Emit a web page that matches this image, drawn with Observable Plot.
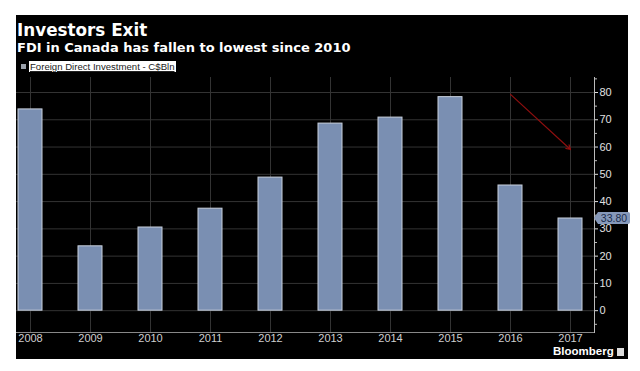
<!DOCTYPE html>
<html><head><meta charset="utf-8">
<script src="https://cdn.jsdelivr.net/npm/d3@7"></script>
<script src="https://cdn.jsdelivr.net/npm/@observablehq/plot@0.6"></script>
<style>
body{margin:0;background:#fff;width:640px;height:371px;overflow:hidden;position:relative}
#panel{position:absolute;left:16px;top:15px;width:612px;height:344px;background:#000}
.t{position:absolute;white-space:nowrap;line-height:1;color:#fff}
#title{left:1px;top:4.8px;font:bold 16.8px "DejaVu Sans"}
#subtitle{left:1px;top:24.7px;font:bold 13px "DejaVu Sans"}
#legsq{position:absolute;left:5px;top:49px;width:5px;height:5px;background:#9aa0aa}
#legtx{position:absolute;left:13px;top:46px;height:11px;line-height:11px;background:#fff;color:#222;font:9.6px "Liberation Sans";padding:0 1px;text-decoration:underline;white-space:nowrap}
#chart{position:absolute;left:0;top:57px}
#chart svg{overflow:visible}
#brand{position:absolute;left:537px;top:331px;font:bold 11.5px "Liberation Sans";color:#fff;line-height:1}
#icon{position:absolute;left:601px;top:333px;width:7px;height:8px;background:#ddd}
</style>
</head><body>
<div id="panel">
  <div id="title" class="t">Investors Exit</div>
  <div id="subtitle" class="t">FDI in Canada has fallen to lowest since 2010</div>
  <div id="legsq"></div>
  <div id="legtx">Foreign Direct Investment - C$Bln</div>
  <div id="chart"></div>
  <div id="brand">Bloomberg</div>
  <div id="icon"></div>
</div>
<script>
const years = ["2008","2009","2010","2011","2012","2013","2014","2015","2016","2017"];
const fdi = [73.8, 23.6, 30.5, 37.4, 48.8, 68.6, 70.8, 78.3, 45.9, 33.8];
const yTicks = [0, 10, 20, 30, 40, 50, 60, 70, 80];
const yMinorTicks = [-5, 5, 15, 25, 35, 45, 55, 65, 75, 85];
const arrowYears = ["2016", "2017"];
const arrowValues = [79.3, 59.1];
const lastLabel = "33.80";

const data = years.map((year, i) => ({year, value: fdi[i]}));
const arrowData = [{x1: arrowYears[0], y1: arrowValues[0], x2: arrowYears[1], y2: arrowValues[1]}];

function tagMark(index, scales, values, dims) {
  const svgNS = "http://www.w3.org/2000/svg";
  const g = document.createElementNS(svgNS, "g");
  const x0 = dims.width - dims.marginRight;
  const yc = scales.y(fdi[fdi.length - 1]);
  const p = document.createElementNS(svgNS, "path");
  p.setAttribute("d", `M${x0},${yc} L${x0+4},${yc-6} L${x0+34},${yc-6} Q${x0+36},${yc-6} ${x0+36},${yc-4} L${x0+36},${yc+4} Q${x0+36},${yc+6} ${x0+34},${yc+6} L${x0+4},${yc+6} Z`);
  p.setAttribute("fill", "#8699ba");
  g.appendChild(p);
  const t = document.createElementNS(svgNS, "text");
  t.setAttribute("x", x0 + 20);
  t.setAttribute("y", yc);
  t.setAttribute("dy", "0.36em");
  t.setAttribute("text-anchor", "middle");
  t.setAttribute("fill", "#1c2d4d");
  t.setAttribute("font-family", "Liberation Sans");
  t.setAttribute("font-size", "10.5");
  t.textContent = lastLabel;
  g.appendChild(t);
  return g;
}

const chart = Plot.plot({
  width: 612,
  height: 273,
  marginLeft: 0,
  marginRight: 34,
  marginTop: 5,
  marginBottom: 13,
  style: {background: "transparent", color: "#ccc", fontFamily: "Liberation Sans", fontSize: "11px", overflow: "visible"},
  x: {type: "band", domain: years, range: [-16, 584], paddingInner: 0.6, paddingOuter: 0.3, label: null},
  y: {domain: [-8, 85.5], label: null},
  marks: [
    Plot.gridY(yTicks, {stroke: "#333", strokeOpacity: 1}),
    Plot.gridX({stroke: "#333", strokeOpacity: 1}),
    Plot.barY(data, {x: "year", y: "value", fill: "#7a8fb2", stroke: "#c9d1dd", strokeWidth: 1}),
    Plot.ruleY([-8], {stroke: "#888"}),
    Plot.frame({anchor: "right", stroke: "#bbb"}),
    Plot.axisY(yTicks, {anchor: "right", tickSize: 3, tickPadding: 2, stroke: "#ddd", fill: "#e0e0e0", fontSize: 11, label: null}),
    Plot.axisY(yMinorTicks, {anchor: "right", tickSize: 2, tickFormat: () => "", stroke: "#bbb", label: null}),
    Plot.axisX({anchor: "bottom", tickSize: 0, tickPadding: 2, fill: "#cfcfcf", fontSize: 11, label: null}),
    Plot.arrow(arrowData, {x1: "x1", y1: "y1", x2: "x2", y2: "y2", stroke: "#8e0f0f", strokeWidth: 1.2, headLength: 6}),
    tagMark
  ]
});
document.getElementById("chart").appendChild(chart);
</script>
</body></html>
